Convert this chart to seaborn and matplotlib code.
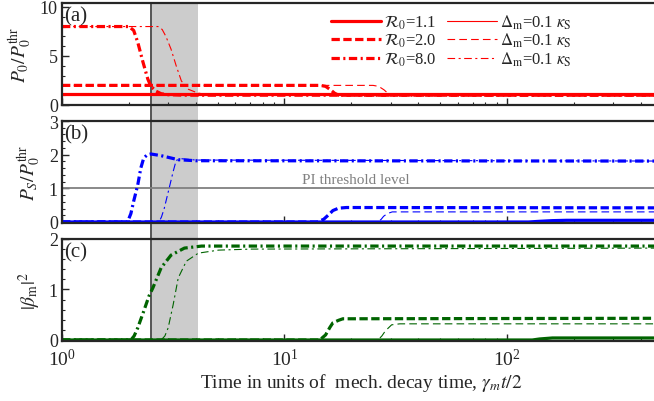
import matplotlib
matplotlib.use("Agg")
import matplotlib.pyplot as plt
from matplotlib.ticker import AutoMinorLocator, LogLocator, NullFormatter
import seaborn as sns

sns.set_style("ticks")
plt.rcParams["font.family"] = ["Liberation Serif", "DejaVu Serif"]
plt.rcParams["mathtext.fontset"] = "stix"
plt.rcParams["lines.scale_dashes"] = False

# ---- data (time in units of gamma_m t / 2) ----
# panel (a): P0 / P0thr
t_a11 = [1, 500]
a11 = [1.1, 1.1]
t_a11b = [1, 500]
a11b = [1.1, 1.1]
t_a20 = [1, 14.5, 15.3, 16.0, 16.8, 17.5, 500]
a20 = [2.0, 2.0, 1.9, 1.6, 1.2, 1.0, 1.0]
t_a20b = [1, 25, 26.5, 28, 29.3, 30.5, 500]
a20b = [2.0, 2.0, 1.9, 1.55, 1.15, 1.0, 1.0]
t_a80 = [1, 2.0, 2.1, 2.19, 2.31, 2.43, 2.51, 2.65, 2.79, 3.0, 3.5, 500]
a80 = [8.0, 8.0, 7.6, 6.4, 4.4, 2.65, 1.9, 1.4, 1.15, 1.05, 1.0, 1.0]
t_a80b = [1, 2.7, 2.82, 2.93, 3.09, 3.26, 3.44, 3.7, 4.1, 5.0, 500]
a80b = [8.0, 8.0, 7.7, 7.0, 5.7, 4.0, 2.45, 1.6, 1.2, 1.05, 1.0]

# panel (b): PS / P0thr
t_b11 = [1, 125, 140, 160, 185, 500]
b11 = [0, 0, 0.02, 0.04, 0.05, 0.05]
t_b11b = [1, 500]
b11b = [0, 0]
t_b20 = [1, 14.0, 15.0, 16.0, 16.5, 17.5, 19.0, 500]
b20 = [0, 0, 0.08, 0.25, 0.34, 0.41, 0.43, 0.42]
t_b20b = [1, 26.3, 27.2, 27.9, 29.0, 30.5, 500]
b20b = [0, 0, 0.08, 0.17, 0.25, 0.3, 0.3]
t_b80 = [1, 1.97, 2.04, 2.10, 2.19, 2.26, 2.33, 2.42, 2.51, 2.79, 3.33, 4.0, 500]
b80 = [0, 0, 0.25, 0.62, 1.1, 1.6, 1.9, 2.0, 2.02, 1.97, 1.85, 1.82, 1.81]
t_b80b = [1, 2.73, 2.80, 2.88, 3.03, 3.16, 3.26, 3.44, 4.0, 500]
b80b = [0, 0, 0.15, 0.4, 1.0, 1.5, 1.83, 1.88, 1.84, 1.81]

# panel (c): |beta_m|^2
t_c11 = [1, 130, 140, 160, 500]
c11 = [0, 0, 0.02, 0.04, 0.04]
t_c11b = [1, 500]
c11b = [0, 0]
t_c20 = [1, 14.4, 15.3, 16.0, 16.5, 17.5, 18.3, 500]
c20 = [0, 0, 0.1, 0.25, 0.34, 0.39, 0.42, 0.43]
t_c20b = [1, 26.3, 27.4, 28.4, 30.3, 33, 500]
c20b = [0, 0, 0.08, 0.18, 0.3, 0.32, 0.32]
t_c80 = [1, 2.04, 2.11, 2.19, 2.33, 2.46, 2.56, 2.79, 3.09, 3.55, 4.24, 500]
c80 = [0, 0, 0.08, 0.24, 0.57, 0.87, 1.03, 1.43, 1.68, 1.82, 1.86, 1.86]
t_c80b = [1, 2.79, 2.9, 3.0, 3.16, 3.33, 3.62, 4.1, 5.06, 7.1, 500]
c80b = [0, 0, 0.08, 0.24, 0.7, 1.23, 1.56, 1.72, 1.78, 1.8, 1.82]

thick_labels = [r"$\mathcal{R}_0$=1.1", r"$\mathcal{R}_0$=2.0", r"$\mathcal{R}_0$=8.0"]
thin_labels = [r"$\Delta_{\rm m}$=0.1 $\kappa_{\rm S}$"] * 3
t_band = [2.51, 4.07]
threshold = 1.0

X_MIN, X_MAX = 1, 490
LEFT = 62 / 654
WIDTH = 1.01 - LEFT
H = 102 / 402

STYLES_THICK = ["-", (0, (6, 2.5)), (0, (6, 2.5, 1.5, 2.5))]
STYLES_THIN = ["-", (0, (5.5, 3)), (0, (5.5, 2.5, 1.5, 2.5))]
LW_THICK = 2.3
LW_THIN = 0.8

fig = plt.figure(figsize=(6.54, 4.02), dpi=100)

# background axes for the shaded region spanning all panels
bg = fig.add_axes([LEFT, 1 - 342 / 402, WIDTH, (342 - 4) / 402], zorder=0)
bg.set_xscale("log")
bg.set_xlim(X_MIN, X_MAX)
bg.set_ylim(0, 1)
bg.axvspan(t_band[0], t_band[1], color="#cccccc", lw=0)
bg.axvline(t_band[0], color="#555555", lw=1.4)
bg.axis("off")

ax_a = fig.add_axes([LEFT, 1 - 106 / 402, WIDTH, H], zorder=1)
ax_b = fig.add_axes([LEFT, 1 - 224 / 402, WIDTH, H], zorder=1)
ax_c = fig.add_axes([LEFT, 1 - 342 / 402, WIDTH, H], zorder=1)

panels = [
    (ax_a, "red", [(t_a11, a11), (t_a20, a20), (t_a80, a80)],
     [(t_a11b, a11b), (t_a20b, a20b), (t_a80b, a80b)]),
    (ax_b, "blue", [(t_b11, b11), (t_b20, b20), (t_b80, b80)],
     [(t_b11b, b11b), (t_b20b, b20b), (t_b80b, b80b)]),
    (ax_c, "#006400", [(t_c11, c11), (t_c20, c20), (t_c80, c80)],
     [(t_c11b, c11b), (t_c20b, c20b), (t_c80b, c80b)]),
]

for ax, col, thick, thin in panels:
    ax.set_facecolor("none")
    for (tt, vv), ls in zip(thin, STYLES_THIN):
        sns.lineplot(x=tt, y=vv, ax=ax, color=col, lw=LW_THIN, linestyle=ls,
                     sort=False, estimator=None, legend=False)
    for (tt, vv), ls in zip(thick, STYLES_THICK):
        sns.lineplot(x=tt, y=vv, ax=ax, color=col, lw=LW_THICK, linestyle=ls,
                     sort=False, estimator=None, legend=False)

for ax in [ax_a, ax_b]:
    ax.axhline(threshold, color="#808080", lw=1.3, zorder=1.5)

ax_b.text(21, 1.08, "PI threshold level", color="#808080", fontsize=11,
          ha="center", va="bottom")

ylims = [(0, 10.4), (-0.03, 3), (-0.02, 2)]
yticks = [[0, 5, 10], [0, 1, 2, 3], [0, 1, 2]]
ylabels = [r"$P_0/P_0^{\rm thr}$", r"$P_S/P_0^{\rm thr}$", r"$|\beta_{\rm m}|^2$"]
tags = ["(a)", "(b)", "(c)"]

for ax, yl, yt, lab, tag in zip([ax_a, ax_b, ax_c], ylims, yticks, ylabels, tags):
    ax.set_xscale("log")
    ax.set_xlim(X_MIN, X_MAX)
    ax.set_ylim(*yl)
    ax.set_yticks(yt)
    ax.yaxis.set_minor_locator(AutoMinorLocator(5))
    ax.xaxis.set_major_locator(LogLocator(base=10))
    ax.xaxis.set_minor_locator(LogLocator(base=10, subs=range(2, 10)))
    ax.xaxis.set_minor_formatter(NullFormatter())
    ax.tick_params(which="both", direction="in", top=False, right=False)
    ax.tick_params(which="major", length=5, width=1.0, labelsize=13)
    ax.tick_params(which="minor", length=2.5, width=0.8)
    ax.tick_params(axis="y", pad=3)
    ax.set_ylabel(lab, fontsize=14, labelpad=4)
    for sp in ax.spines.values():
        sp.set_linewidth(1.6)
    ax.text(0.004, 0.97, tag, transform=ax.transAxes, fontsize=15,
            ha="left", va="top")
    ax.set_xlabel("")

ax_a.tick_params(axis="x", labelbottom=False)
ax_b.tick_params(axis="x", labelbottom=False)
ax_c.tick_params(axis="x", labelsize=14, pad=5)
ax_c.set_xlabel(r"Time in units of  mech. decay time, $\gamma_m t/2$", fontsize=14,
                labelpad=1)

lines = ax_a.get_lines()
thin_handles = lines[0:3]
thick_handles = lines[3:6]
ax_a.legend(thick_handles + thin_handles, thick_labels + thin_labels,
            ncol=2, frameon=False, fontsize=12, loc="upper left",
            bbox_to_anchor=(0.43, 1.02), handlelength=3.0, handletextpad=0.2,
            labelspacing=0.0, columnspacing=0.6, borderpad=0.2)

fig.savefig("out.png", dpi=100)
